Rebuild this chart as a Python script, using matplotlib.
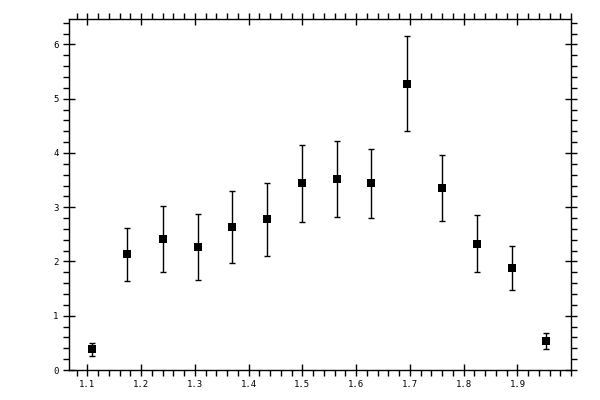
import matplotlib
matplotlib.use("Agg")
import matplotlib.pyplot as plt
from matplotlib.ticker import MultipleLocator
import numpy as np

x = [1.109, 1.174, 1.240, 1.305, 1.370, 1.435, 1.500, 1.564, 1.628, 1.694, 1.759, 1.824, 1.889, 1.953]
y = [0.38, 2.13, 2.41, 2.26, 2.63, 2.78, 3.44, 3.52, 3.44, 5.27, 3.35, 2.32, 1.88, 0.53]
y_hi = [0.50, 2.61, 3.03, 2.88, 3.30, 3.44, 4.14, 4.22, 4.07, 6.15, 3.96, 2.85, 2.28, 0.68]
y_lo = [0.25, 1.64, 1.80, 1.66, 1.97, 2.10, 2.72, 2.82, 2.80, 4.40, 2.74, 1.81, 1.47, 0.38]

x_ticks = [1.1, 1.2, 1.3, 1.4, 1.5, 1.6, 1.7, 1.8, 1.9]
x_tick_labels = ["1.1", "1.2", "1.3", "1.4", "1.5", "1.6", "1.7", "1.8", "1.9"]
y_ticks = [0, 1, 2, 3, 4, 5, 6]
y_tick_labels = ["0", "1", "2", "3", "4", "5", "6"]

fig = plt.figure(figsize=(6, 4), dpi=100)
ax = fig.add_axes([0.115, 0.075, 0.837, 0.8775])

yv = np.array(y)
err = [yv - np.array(y_lo), np.array(y_hi) - yv]
ax.errorbar(x, y, yerr=err, fmt='none', ecolor='black',
            elinewidth=1.0, capsize=2.5, capthick=1.0)
ax.plot(x, y, linestyle='none', marker='s', color='black',
        markersize=5.5, markeredgewidth=0)

ax.set_xlim(1.066, 2.0)
ax.set_ylim(0, 6.47)
ax.set_xticks(x_ticks)
ax.set_xticklabels(x_tick_labels)
ax.set_yticks(y_ticks)
ax.set_yticklabels(y_tick_labels)
ax.xaxis.set_minor_locator(MultipleLocator(0.02))
ax.yaxis.set_minor_locator(MultipleLocator(0.2))

for s in ax.spines.values():
    s.set_linewidth(1.0)

ax.tick_params(which='major', direction='inout', length=9, width=1.0,
               top=True, right=True, labelsize=6.5, pad=3)
ax.tick_params(which='minor', direction='out', length=4, width=1.0,
               top=True, right=True)
for lab in ax.get_xticklabels() + ax.get_yticklabels():
    lab.set_family('DejaVu Sans Mono')

fig.savefig("out.png", dpi=100)
